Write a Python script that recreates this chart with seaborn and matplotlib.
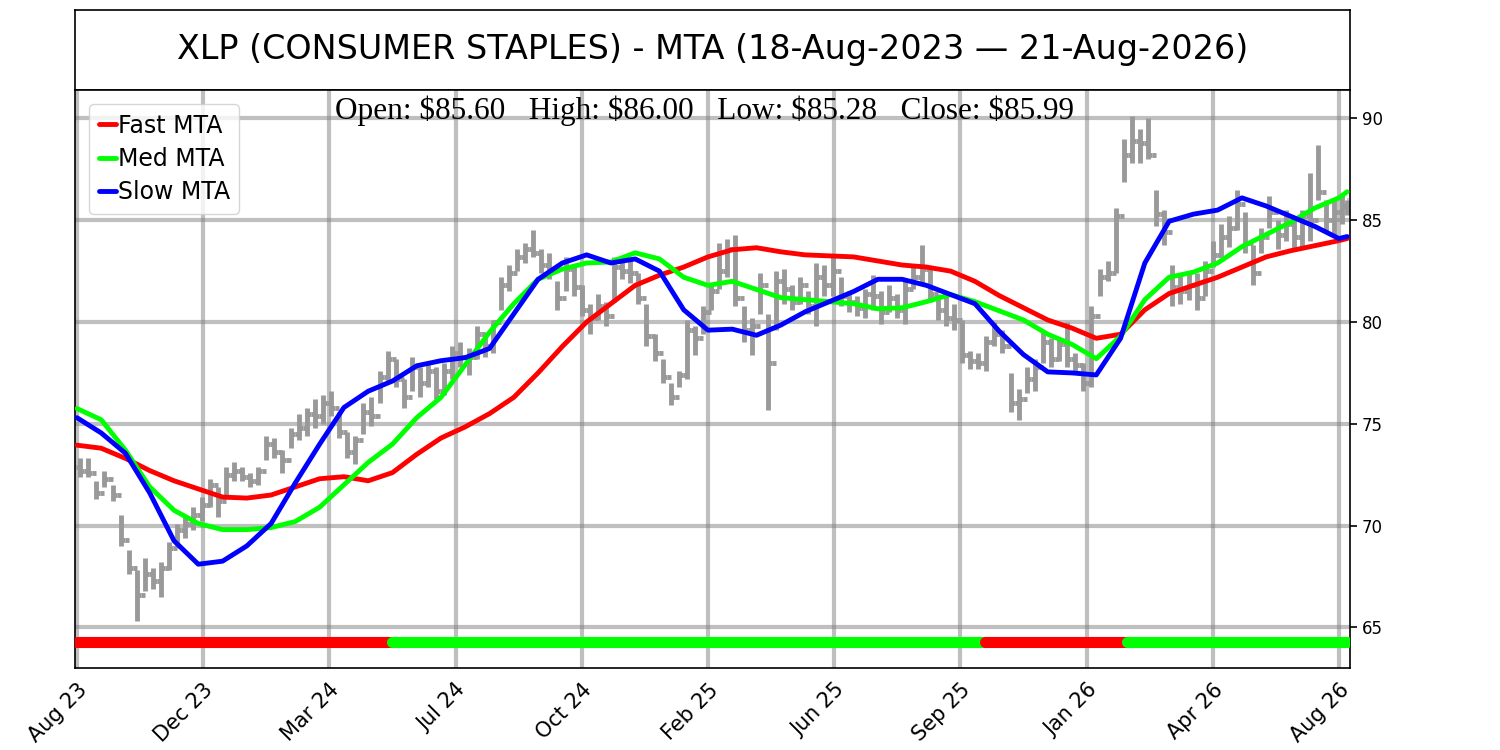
import numpy as np
import pandas as pd
import matplotlib
matplotlib.use("Agg")
import matplotlib.pyplot as plt
import seaborn as sns

ticker = "XLP"
sector = "CONSUMER STAPLES"
dates = pd.bdate_range("2023-08-18", "2026-08-21")   # 786 trading days

# weekly price bars (5 trading days each)
week_close = [72.7, 72.6, 71.6, 72.3, 71.5, 69.3, 67.9, 66.6, 67.6, 67.3,
              67.9, 68.9, 69.8, 70.1, 70.5, 71.0, 72.0, 71.2, 72.5, 72.7,
              72.4, 72.2, 72.7, 74.0, 73.6, 73.2, 74.5, 74.8, 75.5, 75.4,
              76.0, 75.8, 74.6, 73.6, 74.2, 75.6, 75.4, 77.3, 78.2, 77.2,
              76.3, 77.8, 77.0, 77.6, 76.6, 77.6, 78.5, 78.3, 78.3, 79.4,
              78.8, 80.0, 81.8, 82.4, 83.2, 83.6, 83.4, 82.8, 82.6, 81.2,
              82.6, 81.7, 80.6, 80.2, 80.8, 80.3, 82.7, 82.5, 82.4, 81.2,
              79.3, 78.5, 77.3, 76.3, 77.4, 79.6, 79.2, 80.5, 81.5, 82.5,
              83.6, 81.2, 79.6, 79.8, 81.8, 78.0, 82.0, 81.6, 81.0, 81.8,
              80.8, 82.2, 81.8, 82.5, 81.3, 81.0, 80.7, 81.4, 81.3, 80.5,
              81.2, 80.6, 81.6, 82.2, 82.6, 81.4, 80.6, 80.2, 80.1, 78.4,
              78.1, 78.0, 79.0, 79.4, 78.8, 76.0, 76.2, 77.2, 77.8, 79.0,
              78.2, 78.9, 78.2, 77.9, 77.0, 80.3, 82.2, 82.4, 85.2, 88.2,
              88.9, 88.8, 88.2, 85.3, 84.4, 81.7, 81.5, 81.8, 81.2, 82.5,
              83.3, 84.2, 84.6, 85.8, 83.9, 82.4, 84.2, 85.4, 84.3, 84.8,
              84.2, 85.2, 85.0, 86.4, 85.0, 85.4, 85.7, 85.99]
week_high = [73.3, 73.3, 72.2, 72.7, 72.0, 70.5, 68.8, 67.8, 68.4, 67.9,
             68.2, 69.2, 70.1, 70.5, 70.9, 71.4, 72.3, 71.9, 72.9, 73.1,
             72.9, 72.6, 72.9, 74.4, 74.3, 73.7, 74.8, 75.5, 75.8, 76.2,
             76.4, 76.6, 75.6, 74.6, 74.4, 76.0, 76.3, 77.6, 78.6, 78.2,
             77.2, 78.3, 77.8, 78.0, 77.8, 78.0, 78.8, 79.0, 78.7, 79.8,
             79.5, 80.1, 82.2, 82.8, 83.6, 83.9, 84.5, 83.6, 83.4, 82.0,
             83.2, 82.8, 81.8, 80.9, 81.4, 81.0, 83.2, 83.2, 83.1, 82.4,
             80.9, 79.4, 78.2, 77.0, 77.6, 80.1, 79.8, 80.8, 81.8, 83.9,
             84.1, 84.3, 80.8, 80.2, 82.4, 80.4, 82.5, 82.6, 81.8, 82.2,
             81.5, 82.9, 82.8, 83.3, 82.2, 81.5, 81.3, 81.6, 82.3, 81.5,
             81.8, 81.4, 82.0, 82.8, 83.8, 82.6, 81.4, 81.4, 80.9, 80.1,
             78.6, 78.5, 79.3, 80.0, 79.6, 77.5, 76.7, 77.8, 78.2, 79.5,
             79.2, 79.2, 80.0, 78.5, 78.0, 80.8, 82.6, 83.0, 85.6, 89.0,
             90.1, 89.5, 90.0, 86.5, 85.5, 82.8, 82.4, 82.4, 82.4, 83.0,
             84.0, 84.8, 85.2, 86.5, 85.4, 83.8, 84.6, 86.2, 85.0, 85.5,
             85.0, 85.5, 87.3, 88.7, 86.0, 86.0, 86.3, 86.0]
week_low = [72.4, 72.4, 71.3, 71.9, 71.2, 69.0, 67.6, 65.3, 66.8, 66.9,
            66.5, 67.8, 68.9, 69.4, 69.8, 70.2, 70.9, 70.4, 71.3, 72.2,
            72.2, 71.9, 72.0, 73.2, 73.3, 72.6, 73.8, 74.2, 74.4, 74.8,
            75.0, 75.4, 74.3, 73.3, 73.0, 74.5, 74.9, 76.0, 77.0, 76.8,
            75.8, 76.6, 76.3, 76.8, 76.2, 76.4, 77.2, 77.8, 77.4, 78.2,
            78.3, 78.5, 80.6, 81.5, 82.5, 82.9, 83.2, 82.4, 82.1, 80.6,
            81.5, 81.3, 80.3, 79.4, 80.1, 79.8, 81.0, 82.1, 81.9, 80.9,
            78.8, 78.1, 77.0, 75.9, 76.8, 77.2, 78.4, 79.4, 80.6, 81.6,
            82.2, 80.8, 79.0, 78.4, 80.4, 75.7, 79.6, 80.9, 80.6, 80.9,
            80.4, 79.8, 81.3, 81.3, 80.8, 80.5, 80.3, 80.2, 80.6, 79.9,
            80.5, 80.2, 79.9, 81.6, 81.9, 81.0, 80.1, 79.8, 79.6, 78.0,
            77.7, 77.7, 77.6, 78.8, 78.5, 75.6, 75.2, 76.5, 76.6, 78.0,
            77.8, 78.1, 77.8, 77.6, 76.6, 76.8, 81.3, 82.0, 82.4, 86.9,
            87.8, 87.8, 88.0, 84.7, 83.8, 80.8, 80.9, 81.1, 80.6, 81.3,
            82.7, 83.2, 83.7, 84.5, 83.4, 81.8, 83.4, 84.6, 83.6, 84.0,
            83.5, 83.6, 84.0, 86.0, 84.4, 84.3, 84.8, 85.28]
first_open = 72.9
last_open, last_high, last_low, last_close = 85.60, 86.00, 85.28, 85.99

# MTA lines, sampled every 15 trading days (+ the last day)
mta_idx = list(range(0, 781, 15)) + [785]
fast_mta = [73.95, 73.8, 73.3, 72.7, 72.2, 71.8, 71.4, 71.35, 71.5, 71.9,
            72.3, 72.4, 72.2, 72.6, 73.5, 74.3, 74.85, 75.5, 76.3, 77.5,
            78.8, 80.0, 80.9, 81.8, 82.3, 82.7, 83.2, 83.55, 83.65, 83.45,
            83.3, 83.25, 83.2, 83.0, 82.8, 82.7, 82.5, 82.0, 81.3, 80.7,
            80.1, 79.7, 79.2, 79.4, 80.6, 81.4, 81.8, 82.2, 82.7, 83.2,
            83.5, 83.75, 84.0, 84.1]
med_mta = [75.75, 75.2, 73.7, 71.9, 70.75, 70.1, 69.8, 69.8, 69.9, 70.2,
           70.9, 72.0, 73.1, 74.0, 75.3, 76.3, 77.9, 79.5, 80.9, 82.1,
           82.6, 82.9, 82.95, 83.4, 83.1, 82.2, 81.8, 82.0, 81.6, 81.2,
           81.1, 81.0, 80.9, 80.65, 80.7, 81.0, 81.35, 81.0, 80.55, 80.1,
           79.4, 78.9, 78.2, 79.3, 81.1, 82.2, 82.45, 82.9, 83.7, 84.3,
           84.9, 85.6, 86.1, 86.4]
slow_mta = [75.3, 74.55, 73.55, 71.6, 69.25, 68.1, 68.25, 69.0, 70.1, 72.1,
            74.0, 75.8, 76.6, 77.1, 77.85, 78.1, 78.25, 78.7, 80.4, 82.1,
            82.9, 83.3, 82.9, 83.1, 82.5, 80.6, 79.6, 79.65, 79.35, 79.85,
            80.5, 81.0, 81.5, 82.1, 82.1, 81.8, 81.35, 80.9, 79.55, 78.4,
            77.55, 77.5, 77.4, 79.2, 82.9, 84.95, 85.3, 85.5, 86.1, 85.7,
            85.2, 84.7, 84.1, 84.2]

# regime strip: bar indices where the state changes
regime_breaks = [0, 195, 561, 649, 785]
regime_states = ["bear", "bull", "bear", "bull"]
regime_colors = {"bear": "red", "bull": "lime"}
regime_level = 64.3

# ---- build frames
n = len(dates)
week_start = np.arange(0, n, 5)
week_end = np.minimum(week_start + 4, n - 1)
week_mid = (week_start + week_end) / 2
week_open = np.r_[first_open, week_close[:-1]]
week_open[-1] = last_open

mta = pd.DataFrame({"idx": mta_idx, "Fast MTA": fast_mta,
                    "Med MTA": med_mta, "Slow MTA": slow_mta})
mta_long = mta.melt(id_vars="idx", var_name="MTA", value_name="value")

sns.set_style("white")
plt.rcParams["font.family"] = ["DejaVu Sans"]
plt.rcParams.update({"text.color": "black", "axes.labelcolor": "black",
                     "xtick.color": "black", "ytick.color": "black"})

fig = plt.figure(figsize=(15, 7.5), dpi=100)
ax_t = fig.add_axes([0.05, 0.88, 0.85, 0.1067])
ax = fig.add_axes([0.05, 0.1093, 0.85, 0.7707])

# title box
ax_t.set_xticks([])
ax_t.set_yticks([])
for s in ax_t.spines.values():
    s.set_color("black")
    s.set_linewidth(1.2)
ax_t.text(0.5, 0.5,
          f"{ticker} ({sector}) - MTA ({dates[0]:%d-%b-%Y} \u2014 {dates[-1]:%d-%b-%Y})",
          ha="center", va="center", fontsize=24, color="black",
          transform=ax_t.transAxes)

# price bars
bar_col = "#999999"
ax.vlines(week_mid, week_low, week_high, color=bar_col, lw=3.5, zorder=2)
ax.hlines(week_open, week_start - 0.5, week_mid, color=bar_col, lw=3.5, zorder=2)
ax.hlines(week_close, week_mid, week_end + 0.5, color=bar_col, lw=3.5, zorder=2)

# MTA lines
palette = {"Fast MTA": "red", "Med MTA": "lime", "Slow MTA": "blue"}
sns.lineplot(data=mta_long, x="idx", y="value", hue="MTA", palette=palette,
             linewidth=3.5, ax=ax, zorder=3)

# regime strip
for s, e, st in zip(regime_breaks[:-1], regime_breaks[1:], regime_states):
    ax.plot([s, e], [regime_level, regime_level], color=regime_colors[st],
            lw=8, solid_capstyle="round", zorder=4)

# info text
ax.text(0.494, 0.99,
        f"Open: \\${last_open:.2f}   High: \\${last_high:.2f}   "
        f"Low: \\${last_low:.2f}   Close: \\${last_close:.2f}",
        transform=ax.transAxes, ha="center", va="top", fontsize=22.5,
        family="Liberation Serif", color="black", zorder=6)

# axes
tick_pos = np.arange(0, n, 78)
ax.set_xticks(tick_pos)
ax.set_xticklabels(dates[tick_pos].strftime("%b %y"), rotation=45, ha="right",
                   rotation_mode="anchor", fontsize=15)
ax.set_yticks([65, 70, 75, 80, 85, 90])
ax.yaxis.tick_right()
ax.tick_params(axis="y", labelsize=12, direction="out", length=5, width=1.2)
ax.tick_params(axis="x", direction="out", length=5, width=1.2)
ax.set_xlim(-1.2, 786.8)
ax.set_ylim(63.0, 91.4)
ax.set_xlabel("")
ax.set_ylabel("")
ax.grid(True, color="gray", alpha=0.5, linewidth=3)
ax.set_axisbelow(True)
for s in ax.spines.values():
    s.set_color("black")
    s.set_linewidth(1.2)

ax.legend(loc="upper left", fontsize=17, handlelength=0.75, handletextpad=0.05,
          borderaxespad=0.6, labelspacing=0.4)

fig.savefig("out.png", dpi=100)
